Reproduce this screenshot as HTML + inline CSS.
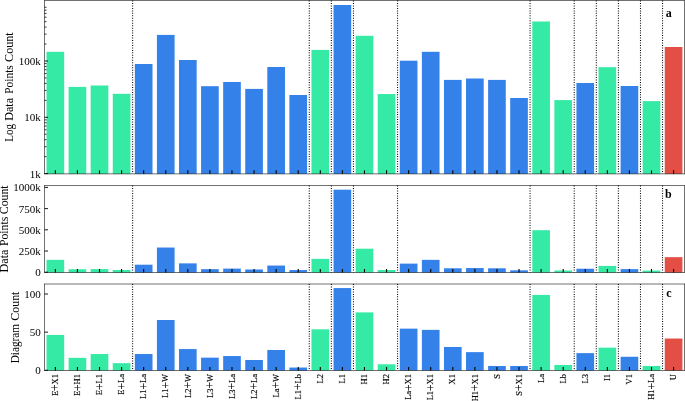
<!DOCTYPE html>
<html><head><meta charset="utf-8"><title>Chart</title>
<style>
html,body{margin:0;padding:0;background:#fff}
svg text{font-family:"Liberation Serif",serif;fill:#000}
svg text.xl{stroke:#000;stroke-width:0.15px}
</style></head><body>
<svg width="685" height="401" viewBox="0 0 685 401" style="display:block">
<rect width="685" height="401" fill="#fff"/>
<g>
<rect x="46.52" y="51.80" width="17.66" height="122.05" fill="#35eaa5"/>
<rect x="68.60" y="86.90" width="17.66" height="86.95" fill="#35eaa5"/>
<rect x="90.68" y="85.50" width="17.66" height="88.35" fill="#35eaa5"/>
<rect x="112.76" y="93.80" width="17.66" height="80.05" fill="#35eaa5"/>
<rect x="134.84" y="64.00" width="17.66" height="109.85" fill="#3381e9"/>
<rect x="156.92" y="34.90" width="17.66" height="138.95" fill="#3381e9"/>
<rect x="179.00" y="60.00" width="17.66" height="113.85" fill="#3381e9"/>
<rect x="201.08" y="86.20" width="17.66" height="87.65" fill="#3381e9"/>
<rect x="223.16" y="82.00" width="17.66" height="91.85" fill="#3381e9"/>
<rect x="245.24" y="88.90" width="17.66" height="84.95" fill="#3381e9"/>
<rect x="267.32" y="67.00" width="17.66" height="106.85" fill="#3381e9"/>
<rect x="289.40" y="95.00" width="17.66" height="78.85" fill="#3381e9"/>
<rect x="311.48" y="49.90" width="17.66" height="123.95" fill="#35eaa5"/>
<rect x="333.56" y="5.00" width="17.66" height="168.85" fill="#3381e9"/>
<rect x="355.64" y="35.80" width="17.66" height="138.05" fill="#35eaa5"/>
<rect x="377.72" y="94.05" width="17.66" height="79.80" fill="#35eaa5"/>
<rect x="399.80" y="60.70" width="17.66" height="113.15" fill="#3381e9"/>
<rect x="421.88" y="51.80" width="17.66" height="122.05" fill="#3381e9"/>
<rect x="443.96" y="79.90" width="17.66" height="93.95" fill="#3381e9"/>
<rect x="466.04" y="78.50" width="17.66" height="95.35" fill="#3381e9"/>
<rect x="488.12" y="79.90" width="17.66" height="93.95" fill="#3381e9"/>
<rect x="510.20" y="98.00" width="17.66" height="75.85" fill="#3381e9"/>
<rect x="532.28" y="21.50" width="17.66" height="152.35" fill="#35eaa5"/>
<rect x="554.36" y="100.10" width="17.66" height="73.75" fill="#35eaa5"/>
<rect x="576.44" y="83.00" width="17.66" height="90.85" fill="#3381e9"/>
<rect x="598.52" y="67.20" width="17.66" height="106.65" fill="#35eaa5"/>
<rect x="620.60" y="86.00" width="17.66" height="87.85" fill="#3381e9"/>
<rect x="642.68" y="101.10" width="17.66" height="72.75" fill="#35eaa5"/>
<rect x="664.76" y="47.00" width="17.66" height="126.85" fill="#e34e45"/>
<line x1="132.63" y1="0.50" x2="132.63" y2="173.85" stroke="#000" stroke-width="1.05" stroke-dasharray="1.0 1.47"/>
<line x1="309.27" y1="0.50" x2="309.27" y2="173.85" stroke="#000" stroke-width="1.05" stroke-dasharray="1.0 1.47"/>
<line x1="331.35" y1="0.50" x2="331.35" y2="173.85" stroke="#000" stroke-width="1.05" stroke-dasharray="1.0 1.47"/>
<line x1="353.43" y1="0.50" x2="353.43" y2="173.85" stroke="#000" stroke-width="1.05" stroke-dasharray="1.0 1.47"/>
<line x1="397.59" y1="0.50" x2="397.59" y2="173.85" stroke="#000" stroke-width="1.05" stroke-dasharray="1.0 1.47"/>
<line x1="530.07" y1="0.50" x2="530.07" y2="173.85" stroke="#000" stroke-width="1.05" stroke-dasharray="1.0 1.47"/>
<line x1="574.23" y1="0.50" x2="574.23" y2="173.85" stroke="#000" stroke-width="1.05" stroke-dasharray="1.0 1.47"/>
<line x1="596.31" y1="0.50" x2="596.31" y2="173.85" stroke="#000" stroke-width="1.05" stroke-dasharray="1.0 1.47"/>
<line x1="618.39" y1="0.50" x2="618.39" y2="173.85" stroke="#000" stroke-width="1.05" stroke-dasharray="1.0 1.47"/>
<line x1="640.47" y1="0.50" x2="640.47" y2="173.85" stroke="#000" stroke-width="1.05" stroke-dasharray="1.0 1.47"/>
<line x1="662.55" y1="0.50" x2="662.55" y2="173.85" stroke="#000" stroke-width="1.05" stroke-dasharray="1.0 1.47"/>
<line x1="55.35" y1="173.85" x2="55.35" y2="170.35" stroke="#000" stroke-width="1.1"/>
<line x1="77.43" y1="173.85" x2="77.43" y2="170.35" stroke="#000" stroke-width="1.1"/>
<line x1="99.51" y1="173.85" x2="99.51" y2="170.35" stroke="#000" stroke-width="1.1"/>
<line x1="121.59" y1="173.85" x2="121.59" y2="170.35" stroke="#000" stroke-width="1.1"/>
<line x1="143.67" y1="173.85" x2="143.67" y2="170.35" stroke="#000" stroke-width="1.1"/>
<line x1="165.75" y1="173.85" x2="165.75" y2="170.35" stroke="#000" stroke-width="1.1"/>
<line x1="187.83" y1="173.85" x2="187.83" y2="170.35" stroke="#000" stroke-width="1.1"/>
<line x1="209.91" y1="173.85" x2="209.91" y2="170.35" stroke="#000" stroke-width="1.1"/>
<line x1="231.99" y1="173.85" x2="231.99" y2="170.35" stroke="#000" stroke-width="1.1"/>
<line x1="254.07" y1="173.85" x2="254.07" y2="170.35" stroke="#000" stroke-width="1.1"/>
<line x1="276.15" y1="173.85" x2="276.15" y2="170.35" stroke="#000" stroke-width="1.1"/>
<line x1="298.23" y1="173.85" x2="298.23" y2="170.35" stroke="#000" stroke-width="1.1"/>
<line x1="320.31" y1="173.85" x2="320.31" y2="170.35" stroke="#000" stroke-width="1.1"/>
<line x1="342.39" y1="173.85" x2="342.39" y2="170.35" stroke="#000" stroke-width="1.1"/>
<line x1="364.47" y1="173.85" x2="364.47" y2="170.35" stroke="#000" stroke-width="1.1"/>
<line x1="386.55" y1="173.85" x2="386.55" y2="170.35" stroke="#000" stroke-width="1.1"/>
<line x1="408.63" y1="173.85" x2="408.63" y2="170.35" stroke="#000" stroke-width="1.1"/>
<line x1="430.71" y1="173.85" x2="430.71" y2="170.35" stroke="#000" stroke-width="1.1"/>
<line x1="452.79" y1="173.85" x2="452.79" y2="170.35" stroke="#000" stroke-width="1.1"/>
<line x1="474.87" y1="173.85" x2="474.87" y2="170.35" stroke="#000" stroke-width="1.1"/>
<line x1="496.95" y1="173.85" x2="496.95" y2="170.35" stroke="#000" stroke-width="1.1"/>
<line x1="519.03" y1="173.85" x2="519.03" y2="170.35" stroke="#000" stroke-width="1.1"/>
<line x1="541.11" y1="173.85" x2="541.11" y2="170.35" stroke="#000" stroke-width="1.1"/>
<line x1="563.19" y1="173.85" x2="563.19" y2="170.35" stroke="#000" stroke-width="1.1"/>
<line x1="585.27" y1="173.85" x2="585.27" y2="170.35" stroke="#000" stroke-width="1.1"/>
<line x1="607.35" y1="173.85" x2="607.35" y2="170.35" stroke="#000" stroke-width="1.1"/>
<line x1="629.43" y1="173.85" x2="629.43" y2="170.35" stroke="#000" stroke-width="1.1"/>
<line x1="651.51" y1="173.85" x2="651.51" y2="170.35" stroke="#000" stroke-width="1.1"/>
<line x1="673.59" y1="173.85" x2="673.59" y2="170.35" stroke="#000" stroke-width="1.1"/>
<line x1="44.5" y1="173.60" x2="48.0" y2="173.60" stroke="#000" stroke-width="0.9"/>
<line x1="44.5" y1="117.30" x2="48.0" y2="117.30" stroke="#000" stroke-width="0.9"/>
<line x1="44.5" y1="61.00" x2="48.0" y2="61.00" stroke="#000" stroke-width="0.9"/>
<line x1="44.5" y1="156.65" x2="46.5" y2="156.65" stroke="#000" stroke-width="0.8"/>
<line x1="44.5" y1="146.74" x2="46.5" y2="146.74" stroke="#000" stroke-width="0.8"/>
<line x1="44.5" y1="139.70" x2="46.5" y2="139.70" stroke="#000" stroke-width="0.8"/>
<line x1="44.5" y1="134.25" x2="46.5" y2="134.25" stroke="#000" stroke-width="0.8"/>
<line x1="44.5" y1="129.79" x2="46.5" y2="129.79" stroke="#000" stroke-width="0.8"/>
<line x1="44.5" y1="126.02" x2="46.5" y2="126.02" stroke="#000" stroke-width="0.8"/>
<line x1="44.5" y1="122.76" x2="46.5" y2="122.76" stroke="#000" stroke-width="0.8"/>
<line x1="44.5" y1="119.88" x2="46.5" y2="119.88" stroke="#000" stroke-width="0.8"/>
<line x1="44.5" y1="100.35" x2="46.5" y2="100.35" stroke="#000" stroke-width="0.8"/>
<line x1="44.5" y1="90.44" x2="46.5" y2="90.44" stroke="#000" stroke-width="0.8"/>
<line x1="44.5" y1="83.40" x2="46.5" y2="83.40" stroke="#000" stroke-width="0.8"/>
<line x1="44.5" y1="77.95" x2="46.5" y2="77.95" stroke="#000" stroke-width="0.8"/>
<line x1="44.5" y1="73.49" x2="46.5" y2="73.49" stroke="#000" stroke-width="0.8"/>
<line x1="44.5" y1="69.72" x2="46.5" y2="69.72" stroke="#000" stroke-width="0.8"/>
<line x1="44.5" y1="66.46" x2="46.5" y2="66.46" stroke="#000" stroke-width="0.8"/>
<line x1="44.5" y1="63.58" x2="46.5" y2="63.58" stroke="#000" stroke-width="0.8"/>
<line x1="44.5" y1="44.05" x2="46.5" y2="44.05" stroke="#000" stroke-width="0.8"/>
<line x1="44.5" y1="34.14" x2="46.5" y2="34.14" stroke="#000" stroke-width="0.8"/>
<line x1="44.5" y1="27.10" x2="46.5" y2="27.10" stroke="#000" stroke-width="0.8"/>
<line x1="44.5" y1="21.65" x2="46.5" y2="21.65" stroke="#000" stroke-width="0.8"/>
<line x1="44.5" y1="17.19" x2="46.5" y2="17.19" stroke="#000" stroke-width="0.8"/>
<line x1="44.5" y1="13.42" x2="46.5" y2="13.42" stroke="#000" stroke-width="0.8"/>
<line x1="44.5" y1="10.16" x2="46.5" y2="10.16" stroke="#000" stroke-width="0.8"/>
<line x1="44.5" y1="7.28" x2="46.5" y2="7.28" stroke="#000" stroke-width="0.8"/>
<path d="M44.5 0.2V174.1M684.5 0.2V174.1M44.22 0.5H684.8M44.22 173.85H684.8" fill="none" stroke="#000" stroke-width="0.56"/>
<text transform="translate(40.8 177.65) scale(1.035 1.055)" text-anchor="end" font-size="10.7">1k</text>
<text transform="translate(40.8 121.35) scale(1.035 1.055)" text-anchor="end" font-size="10.7">10k</text>
<text transform="translate(40.8 65.05) scale(1.035 1.055)" text-anchor="end" font-size="10.7">100k</text>
<text transform="translate(13.1 0) rotate(-90) scale(1 1.07)" font-size="11"><tspan x="-141.80" textLength="17.80" lengthAdjust="spacingAndGlyphs">Log</tspan> <tspan x="-120.70" textLength="22.70" lengthAdjust="spacingAndGlyphs">Data</tspan> <tspan x="-93.70" textLength="28.40" lengthAdjust="spacingAndGlyphs">Points</tspan> <tspan x="-61.90" textLength="29.50" lengthAdjust="spacingAndGlyphs">Count</tspan></text>
<text x="671.7" y="17.1" text-anchor="end" font-size="12" font-weight="bold">a</text>
</g>
<g>
<rect x="46.52" y="259.85" width="17.66" height="12.65" fill="#35eaa5"/>
<rect x="68.60" y="269.26" width="17.66" height="3.24" fill="#35eaa5"/>
<rect x="90.68" y="269.09" width="17.66" height="3.41" fill="#35eaa5"/>
<rect x="112.76" y="269.98" width="17.66" height="2.52" fill="#35eaa5"/>
<rect x="134.84" y="264.70" width="17.66" height="7.80" fill="#3381e9"/>
<rect x="156.92" y="247.54" width="17.66" height="24.96" fill="#3381e9"/>
<rect x="179.00" y="263.37" width="17.66" height="9.13" fill="#3381e9"/>
<rect x="201.08" y="269.17" width="17.66" height="3.33" fill="#3381e9"/>
<rect x="223.16" y="268.61" width="17.66" height="3.89" fill="#3381e9"/>
<rect x="245.24" y="269.49" width="17.66" height="3.01" fill="#3381e9"/>
<rect x="267.32" y="265.57" width="17.66" height="6.93" fill="#3381e9"/>
<rect x="289.40" y="270.09" width="17.66" height="2.41" fill="#3381e9"/>
<rect x="311.48" y="258.85" width="17.66" height="13.65" fill="#35eaa5"/>
<rect x="333.56" y="189.70" width="17.66" height="82.80" fill="#3381e9"/>
<rect x="355.64" y="248.70" width="17.66" height="23.80" fill="#35eaa5"/>
<rect x="377.72" y="270.01" width="17.66" height="2.49" fill="#35eaa5"/>
<rect x="399.80" y="263.62" width="17.66" height="8.88" fill="#3381e9"/>
<rect x="421.88" y="259.85" width="17.66" height="12.65" fill="#3381e9"/>
<rect x="443.96" y="268.29" width="17.66" height="4.21" fill="#3381e9"/>
<rect x="466.04" y="268.05" width="17.66" height="4.45" fill="#3381e9"/>
<rect x="488.12" y="268.29" width="17.66" height="4.21" fill="#3381e9"/>
<rect x="510.20" y="270.33" width="17.66" height="2.17" fill="#3381e9"/>
<rect x="532.28" y="230.20" width="17.66" height="42.30" fill="#35eaa5"/>
<rect x="554.36" y="270.49" width="17.66" height="2.01" fill="#35eaa5"/>
<rect x="576.44" y="268.75" width="17.66" height="3.75" fill="#3381e9"/>
<rect x="598.52" y="265.92" width="17.66" height="6.58" fill="#35eaa5"/>
<rect x="620.60" y="269.15" width="17.66" height="3.35" fill="#3381e9"/>
<rect x="642.68" y="270.56" width="17.66" height="1.94" fill="#35eaa5"/>
<rect x="664.76" y="257.17" width="17.66" height="15.33" fill="#e34e45"/>
<line x1="132.63" y1="185.50" x2="132.63" y2="272.50" stroke="#000" stroke-width="1.05" stroke-dasharray="1.0 1.47"/>
<line x1="309.27" y1="185.50" x2="309.27" y2="272.50" stroke="#000" stroke-width="1.05" stroke-dasharray="1.0 1.47"/>
<line x1="331.35" y1="185.50" x2="331.35" y2="272.50" stroke="#000" stroke-width="1.05" stroke-dasharray="1.0 1.47"/>
<line x1="353.43" y1="185.50" x2="353.43" y2="272.50" stroke="#000" stroke-width="1.05" stroke-dasharray="1.0 1.47"/>
<line x1="397.59" y1="185.50" x2="397.59" y2="272.50" stroke="#000" stroke-width="1.05" stroke-dasharray="1.0 1.47"/>
<line x1="530.07" y1="185.50" x2="530.07" y2="272.50" stroke="#000" stroke-width="1.05" stroke-dasharray="1.0 1.47"/>
<line x1="574.23" y1="185.50" x2="574.23" y2="272.50" stroke="#000" stroke-width="1.05" stroke-dasharray="1.0 1.47"/>
<line x1="596.31" y1="185.50" x2="596.31" y2="272.50" stroke="#000" stroke-width="1.05" stroke-dasharray="1.0 1.47"/>
<line x1="618.39" y1="185.50" x2="618.39" y2="272.50" stroke="#000" stroke-width="1.05" stroke-dasharray="1.0 1.47"/>
<line x1="640.47" y1="185.50" x2="640.47" y2="272.50" stroke="#000" stroke-width="1.05" stroke-dasharray="1.0 1.47"/>
<line x1="662.55" y1="185.50" x2="662.55" y2="272.50" stroke="#000" stroke-width="1.05" stroke-dasharray="1.0 1.47"/>
<line x1="55.35" y1="272.50" x2="55.35" y2="269.00" stroke="#000" stroke-width="1.1"/>
<line x1="77.43" y1="272.50" x2="77.43" y2="269.00" stroke="#000" stroke-width="1.1"/>
<line x1="99.51" y1="272.50" x2="99.51" y2="269.00" stroke="#000" stroke-width="1.1"/>
<line x1="121.59" y1="272.50" x2="121.59" y2="269.00" stroke="#000" stroke-width="1.1"/>
<line x1="143.67" y1="272.50" x2="143.67" y2="269.00" stroke="#000" stroke-width="1.1"/>
<line x1="165.75" y1="272.50" x2="165.75" y2="269.00" stroke="#000" stroke-width="1.1"/>
<line x1="187.83" y1="272.50" x2="187.83" y2="269.00" stroke="#000" stroke-width="1.1"/>
<line x1="209.91" y1="272.50" x2="209.91" y2="269.00" stroke="#000" stroke-width="1.1"/>
<line x1="231.99" y1="272.50" x2="231.99" y2="269.00" stroke="#000" stroke-width="1.1"/>
<line x1="254.07" y1="272.50" x2="254.07" y2="269.00" stroke="#000" stroke-width="1.1"/>
<line x1="276.15" y1="272.50" x2="276.15" y2="269.00" stroke="#000" stroke-width="1.1"/>
<line x1="298.23" y1="272.50" x2="298.23" y2="269.00" stroke="#000" stroke-width="1.1"/>
<line x1="320.31" y1="272.50" x2="320.31" y2="269.00" stroke="#000" stroke-width="1.1"/>
<line x1="342.39" y1="272.50" x2="342.39" y2="269.00" stroke="#000" stroke-width="1.1"/>
<line x1="364.47" y1="272.50" x2="364.47" y2="269.00" stroke="#000" stroke-width="1.1"/>
<line x1="386.55" y1="272.50" x2="386.55" y2="269.00" stroke="#000" stroke-width="1.1"/>
<line x1="408.63" y1="272.50" x2="408.63" y2="269.00" stroke="#000" stroke-width="1.1"/>
<line x1="430.71" y1="272.50" x2="430.71" y2="269.00" stroke="#000" stroke-width="1.1"/>
<line x1="452.79" y1="272.50" x2="452.79" y2="269.00" stroke="#000" stroke-width="1.1"/>
<line x1="474.87" y1="272.50" x2="474.87" y2="269.00" stroke="#000" stroke-width="1.1"/>
<line x1="496.95" y1="272.50" x2="496.95" y2="269.00" stroke="#000" stroke-width="1.1"/>
<line x1="519.03" y1="272.50" x2="519.03" y2="269.00" stroke="#000" stroke-width="1.1"/>
<line x1="541.11" y1="272.50" x2="541.11" y2="269.00" stroke="#000" stroke-width="1.1"/>
<line x1="563.19" y1="272.50" x2="563.19" y2="269.00" stroke="#000" stroke-width="1.1"/>
<line x1="585.27" y1="272.50" x2="585.27" y2="269.00" stroke="#000" stroke-width="1.1"/>
<line x1="607.35" y1="272.50" x2="607.35" y2="269.00" stroke="#000" stroke-width="1.1"/>
<line x1="629.43" y1="272.50" x2="629.43" y2="269.00" stroke="#000" stroke-width="1.1"/>
<line x1="651.51" y1="272.50" x2="651.51" y2="269.00" stroke="#000" stroke-width="1.1"/>
<line x1="673.59" y1="272.50" x2="673.59" y2="269.00" stroke="#000" stroke-width="1.1"/>
<line x1="44.5" y1="272.20" x2="48.0" y2="272.20" stroke="#000" stroke-width="0.9"/>
<line x1="44.5" y1="251.00" x2="48.0" y2="251.00" stroke="#000" stroke-width="0.9"/>
<line x1="44.5" y1="229.80" x2="48.0" y2="229.80" stroke="#000" stroke-width="0.9"/>
<line x1="44.5" y1="208.60" x2="48.0" y2="208.60" stroke="#000" stroke-width="0.9"/>
<line x1="44.5" y1="187.40" x2="48.0" y2="187.40" stroke="#000" stroke-width="0.9"/>
<path d="M44.5 185.2V272.75M684.5 185.2V272.75M44.22 185.5H684.8M44.22 272.5H684.8" fill="none" stroke="#000" stroke-width="0.56"/>
<text transform="translate(40.8 276.25) scale(1.035 1.055)" text-anchor="end" font-size="10.7">0</text>
<text transform="translate(40.8 255.05) scale(1.035 1.055)" text-anchor="end" font-size="10.7">250k</text>
<text transform="translate(40.8 233.85) scale(1.035 1.055)" text-anchor="end" font-size="10.7">500k</text>
<text transform="translate(40.8 212.65) scale(1.035 1.055)" text-anchor="end" font-size="10.7">750k</text>
<text transform="translate(40.8 191.45) scale(1.035 1.055)" text-anchor="end" font-size="10.7">1000k</text>
<text transform="translate(8.3 0) rotate(-90) scale(1 1.07)" font-size="11"><tspan x="-272.40" textLength="22.80" lengthAdjust="spacingAndGlyphs">Data</tspan> <tspan x="-246.10" textLength="29.40" lengthAdjust="spacingAndGlyphs">Points</tspan> <tspan x="-214.20" textLength="28.80" lengthAdjust="spacingAndGlyphs">Count</tspan></text>
<text x="671.7" y="198.1" text-anchor="end" font-size="12" font-weight="bold">b</text>
</g>
<g>
<rect x="46.52" y="334.93" width="17.66" height="35.57" fill="#35eaa5"/>
<rect x="68.60" y="357.83" width="17.66" height="12.67" fill="#35eaa5"/>
<rect x="90.68" y="354.03" width="17.66" height="16.47" fill="#35eaa5"/>
<rect x="112.76" y="363.18" width="17.66" height="7.32" fill="#35eaa5"/>
<rect x="134.84" y="354.03" width="17.66" height="16.47" fill="#3381e9"/>
<rect x="156.92" y="319.99" width="17.66" height="50.51" fill="#3381e9"/>
<rect x="179.00" y="349.07" width="17.66" height="21.43" fill="#3381e9"/>
<rect x="201.08" y="357.66" width="17.66" height="12.84" fill="#3381e9"/>
<rect x="223.16" y="356.06" width="17.66" height="14.44" fill="#3381e9"/>
<rect x="245.24" y="360.01" width="17.66" height="10.49" fill="#3381e9"/>
<rect x="267.32" y="349.98" width="17.66" height="20.52" fill="#3381e9"/>
<rect x="289.40" y="367.54" width="17.66" height="2.96" fill="#3381e9"/>
<rect x="311.48" y="329.31" width="17.66" height="41.19" fill="#35eaa5"/>
<rect x="333.56" y="288.07" width="17.66" height="82.43" fill="#3381e9"/>
<rect x="355.64" y="312.39" width="17.66" height="58.11" fill="#35eaa5"/>
<rect x="377.72" y="364.30" width="17.66" height="6.20" fill="#35eaa5"/>
<rect x="399.80" y="328.65" width="17.66" height="41.85" fill="#3381e9"/>
<rect x="421.88" y="329.87" width="17.66" height="40.63" fill="#3381e9"/>
<rect x="443.96" y="346.97" width="17.66" height="23.53" fill="#3381e9"/>
<rect x="466.04" y="352.14" width="17.66" height="18.36" fill="#3381e9"/>
<rect x="488.12" y="365.97" width="17.66" height="4.53" fill="#3381e9"/>
<rect x="510.20" y="365.97" width="17.66" height="4.53" fill="#3381e9"/>
<rect x="532.28" y="294.91" width="17.66" height="75.59" fill="#35eaa5"/>
<rect x="554.36" y="364.98" width="17.66" height="5.52" fill="#35eaa5"/>
<rect x="576.44" y="353.13" width="17.66" height="17.37" fill="#3381e9"/>
<rect x="598.52" y="347.65" width="17.66" height="22.85" fill="#35eaa5"/>
<rect x="620.60" y="356.77" width="17.66" height="13.73" fill="#3381e9"/>
<rect x="642.68" y="365.97" width="17.66" height="4.53" fill="#35eaa5"/>
<rect x="664.76" y="338.53" width="17.66" height="31.97" fill="#e34e45"/>
<line x1="132.63" y1="284.00" x2="132.63" y2="370.50" stroke="#000" stroke-width="1.05" stroke-dasharray="1.0 1.47"/>
<line x1="309.27" y1="284.00" x2="309.27" y2="370.50" stroke="#000" stroke-width="1.05" stroke-dasharray="1.0 1.47"/>
<line x1="331.35" y1="284.00" x2="331.35" y2="370.50" stroke="#000" stroke-width="1.05" stroke-dasharray="1.0 1.47"/>
<line x1="353.43" y1="284.00" x2="353.43" y2="370.50" stroke="#000" stroke-width="1.05" stroke-dasharray="1.0 1.47"/>
<line x1="397.59" y1="284.00" x2="397.59" y2="370.50" stroke="#000" stroke-width="1.05" stroke-dasharray="1.0 1.47"/>
<line x1="530.07" y1="284.00" x2="530.07" y2="370.50" stroke="#000" stroke-width="1.05" stroke-dasharray="1.0 1.47"/>
<line x1="574.23" y1="284.00" x2="574.23" y2="370.50" stroke="#000" stroke-width="1.05" stroke-dasharray="1.0 1.47"/>
<line x1="596.31" y1="284.00" x2="596.31" y2="370.50" stroke="#000" stroke-width="1.05" stroke-dasharray="1.0 1.47"/>
<line x1="618.39" y1="284.00" x2="618.39" y2="370.50" stroke="#000" stroke-width="1.05" stroke-dasharray="1.0 1.47"/>
<line x1="640.47" y1="284.00" x2="640.47" y2="370.50" stroke="#000" stroke-width="1.05" stroke-dasharray="1.0 1.47"/>
<line x1="662.55" y1="284.00" x2="662.55" y2="370.50" stroke="#000" stroke-width="1.05" stroke-dasharray="1.0 1.47"/>
<line x1="55.35" y1="370.50" x2="55.35" y2="367.00" stroke="#000" stroke-width="1.1"/>
<line x1="77.43" y1="370.50" x2="77.43" y2="367.00" stroke="#000" stroke-width="1.1"/>
<line x1="99.51" y1="370.50" x2="99.51" y2="367.00" stroke="#000" stroke-width="1.1"/>
<line x1="121.59" y1="370.50" x2="121.59" y2="367.00" stroke="#000" stroke-width="1.1"/>
<line x1="143.67" y1="370.50" x2="143.67" y2="367.00" stroke="#000" stroke-width="1.1"/>
<line x1="165.75" y1="370.50" x2="165.75" y2="367.00" stroke="#000" stroke-width="1.1"/>
<line x1="187.83" y1="370.50" x2="187.83" y2="367.00" stroke="#000" stroke-width="1.1"/>
<line x1="209.91" y1="370.50" x2="209.91" y2="367.00" stroke="#000" stroke-width="1.1"/>
<line x1="231.99" y1="370.50" x2="231.99" y2="367.00" stroke="#000" stroke-width="1.1"/>
<line x1="254.07" y1="370.50" x2="254.07" y2="367.00" stroke="#000" stroke-width="1.1"/>
<line x1="276.15" y1="370.50" x2="276.15" y2="367.00" stroke="#000" stroke-width="1.1"/>
<line x1="298.23" y1="370.50" x2="298.23" y2="367.00" stroke="#000" stroke-width="1.1"/>
<line x1="320.31" y1="370.50" x2="320.31" y2="367.00" stroke="#000" stroke-width="1.1"/>
<line x1="342.39" y1="370.50" x2="342.39" y2="367.00" stroke="#000" stroke-width="1.1"/>
<line x1="364.47" y1="370.50" x2="364.47" y2="367.00" stroke="#000" stroke-width="1.1"/>
<line x1="386.55" y1="370.50" x2="386.55" y2="367.00" stroke="#000" stroke-width="1.1"/>
<line x1="408.63" y1="370.50" x2="408.63" y2="367.00" stroke="#000" stroke-width="1.1"/>
<line x1="430.71" y1="370.50" x2="430.71" y2="367.00" stroke="#000" stroke-width="1.1"/>
<line x1="452.79" y1="370.50" x2="452.79" y2="367.00" stroke="#000" stroke-width="1.1"/>
<line x1="474.87" y1="370.50" x2="474.87" y2="367.00" stroke="#000" stroke-width="1.1"/>
<line x1="496.95" y1="370.50" x2="496.95" y2="367.00" stroke="#000" stroke-width="1.1"/>
<line x1="519.03" y1="370.50" x2="519.03" y2="367.00" stroke="#000" stroke-width="1.1"/>
<line x1="541.11" y1="370.50" x2="541.11" y2="367.00" stroke="#000" stroke-width="1.1"/>
<line x1="563.19" y1="370.50" x2="563.19" y2="367.00" stroke="#000" stroke-width="1.1"/>
<line x1="585.27" y1="370.50" x2="585.27" y2="367.00" stroke="#000" stroke-width="1.1"/>
<line x1="607.35" y1="370.50" x2="607.35" y2="367.00" stroke="#000" stroke-width="1.1"/>
<line x1="629.43" y1="370.50" x2="629.43" y2="367.00" stroke="#000" stroke-width="1.1"/>
<line x1="651.51" y1="370.50" x2="651.51" y2="367.00" stroke="#000" stroke-width="1.1"/>
<line x1="673.59" y1="370.50" x2="673.59" y2="367.00" stroke="#000" stroke-width="1.1"/>
<line x1="44.5" y1="370.30" x2="48.0" y2="370.30" stroke="#000" stroke-width="0.9"/>
<line x1="44.5" y1="332.15" x2="48.0" y2="332.15" stroke="#000" stroke-width="0.9"/>
<line x1="44.5" y1="294.00" x2="48.0" y2="294.00" stroke="#000" stroke-width="0.9"/>
<path d="M44.5 283.7V370.75M684.5 283.7V370.75M44.22 284.0H684.8M44.22 370.5H684.8" fill="none" stroke="#000" stroke-width="0.56"/>
<text transform="translate(40.8 374.35) scale(1.035 1.055)" text-anchor="end" font-size="10.7">0</text>
<text transform="translate(40.8 336.20) scale(1.035 1.055)" text-anchor="end" font-size="10.7">50</text>
<text transform="translate(40.8 298.05) scale(1.035 1.055)" text-anchor="end" font-size="10.7">100</text>
<text transform="translate(18.7 0) rotate(-90) scale(1 1.07)" font-size="11"><tspan x="-363.30" textLength="39.20" lengthAdjust="spacingAndGlyphs">Diagram</tspan> <tspan x="-320.70" textLength="29.10" lengthAdjust="spacingAndGlyphs">Count</tspan></text>
<text x="671.7" y="296.9" text-anchor="end" font-size="12" font-weight="bold">c</text>
</g>
<text transform="translate(58.05 374.0) rotate(-90)" text-anchor="end" font-size="8.5" class="xl">E<tspan font-size="11.5" dy="1.4">+</tspan><tspan dy="-1.4">X1</tspan></text>
<text transform="translate(80.13 374.0) rotate(-90)" text-anchor="end" font-size="8.5" class="xl">E<tspan font-size="11.5" dy="1.4">+</tspan><tspan dy="-1.4">H1</tspan></text>
<text transform="translate(102.21 374.0) rotate(-90)" text-anchor="end" font-size="8.5" class="xl">E<tspan font-size="11.5" dy="1.4">+</tspan><tspan dy="-1.4">L1</tspan></text>
<text transform="translate(124.29 374.0) rotate(-90)" text-anchor="end" font-size="8.5" class="xl">E<tspan font-size="11.5" dy="1.4">+</tspan><tspan dy="-1.4">La</tspan></text>
<text transform="translate(146.37 374.0) rotate(-90)" text-anchor="end" font-size="8.5" class="xl">L1<tspan font-size="11.5" dy="1.4">+</tspan><tspan dy="-1.4">La</tspan></text>
<text transform="translate(168.45 374.0) rotate(-90)" text-anchor="end" font-size="8.5" class="xl">L1<tspan font-size="11.5" dy="1.4">+</tspan><tspan dy="-1.4">W</tspan></text>
<text transform="translate(190.53 374.0) rotate(-90)" text-anchor="end" font-size="8.5" class="xl">L2<tspan font-size="11.5" dy="1.4">+</tspan><tspan dy="-1.4">W</tspan></text>
<text transform="translate(212.61 374.0) rotate(-90)" text-anchor="end" font-size="8.5" class="xl">L3<tspan font-size="11.5" dy="1.4">+</tspan><tspan dy="-1.4">W</tspan></text>
<text transform="translate(234.69 374.0) rotate(-90)" text-anchor="end" font-size="8.5" class="xl">L3<tspan font-size="11.5" dy="1.4">+</tspan><tspan dy="-1.4">La</tspan></text>
<text transform="translate(256.77 374.0) rotate(-90)" text-anchor="end" font-size="8.5" class="xl">L2<tspan font-size="11.5" dy="1.4">+</tspan><tspan dy="-1.4">La</tspan></text>
<text transform="translate(278.85 374.0) rotate(-90)" text-anchor="end" font-size="8.5" class="xl">La<tspan font-size="11.5" dy="1.4">+</tspan><tspan dy="-1.4">W</tspan></text>
<text transform="translate(300.93 374.0) rotate(-90)" text-anchor="end" font-size="8.5" class="xl">L1<tspan font-size="11.5" dy="1.4">+</tspan><tspan dy="-1.4">Lb</tspan></text>
<text transform="translate(323.01 374.0) rotate(-90)" text-anchor="end" font-size="8.5" class="xl">L2</text>
<text transform="translate(345.09 374.0) rotate(-90)" text-anchor="end" font-size="8.5" class="xl">L1</text>
<text transform="translate(367.17 374.0) rotate(-90)" text-anchor="end" font-size="8.5" class="xl">H1</text>
<text transform="translate(389.25 374.0) rotate(-90)" text-anchor="end" font-size="8.5" class="xl">H2</text>
<text transform="translate(411.33 374.0) rotate(-90)" text-anchor="end" font-size="8.5" class="xl">La<tspan font-size="11.5" dy="1.4">+</tspan><tspan dy="-1.4">X1</tspan></text>
<text transform="translate(433.41 374.0) rotate(-90)" text-anchor="end" font-size="8.5" class="xl">L1<tspan font-size="11.5" dy="1.4">+</tspan><tspan dy="-1.4">X1</tspan></text>
<text transform="translate(455.49 374.0) rotate(-90)" text-anchor="end" font-size="8.5" class="xl">X1</text>
<text transform="translate(477.57 374.0) rotate(-90)" text-anchor="end" font-size="8.5" class="xl">H1<tspan font-size="11.5" dy="1.4">+</tspan><tspan dy="-1.4">X1</tspan></text>
<text transform="translate(499.65 374.0) rotate(-90)" text-anchor="end" font-size="8.5" class="xl">S</text>
<text transform="translate(521.73 374.0) rotate(-90)" text-anchor="end" font-size="8.5" class="xl">S<tspan font-size="11.5" dy="1.4">+</tspan><tspan dy="-1.4">X1</tspan></text>
<text transform="translate(543.81 374.0) rotate(-90)" text-anchor="end" font-size="8.5" class="xl">La</text>
<text transform="translate(565.89 374.0) rotate(-90)" text-anchor="end" font-size="8.5" class="xl">Lb</text>
<text transform="translate(587.97 374.0) rotate(-90)" text-anchor="end" font-size="8.5" class="xl">L3</text>
<text transform="translate(610.05 374.0) rotate(-90)" text-anchor="end" font-size="8.5" class="xl">I1</text>
<text transform="translate(632.13 374.0) rotate(-90)" text-anchor="end" font-size="8.5" class="xl">V1</text>
<text transform="translate(654.21 374.0) rotate(-90)" text-anchor="end" font-size="8.5" class="xl">H1<tspan font-size="11.5" dy="1.4">+</tspan><tspan dy="-1.4">La</tspan></text>
<text transform="translate(676.29 374.0) rotate(-90)" text-anchor="end" font-size="8.5" class="xl">U</text>
</svg>
</body></html>
